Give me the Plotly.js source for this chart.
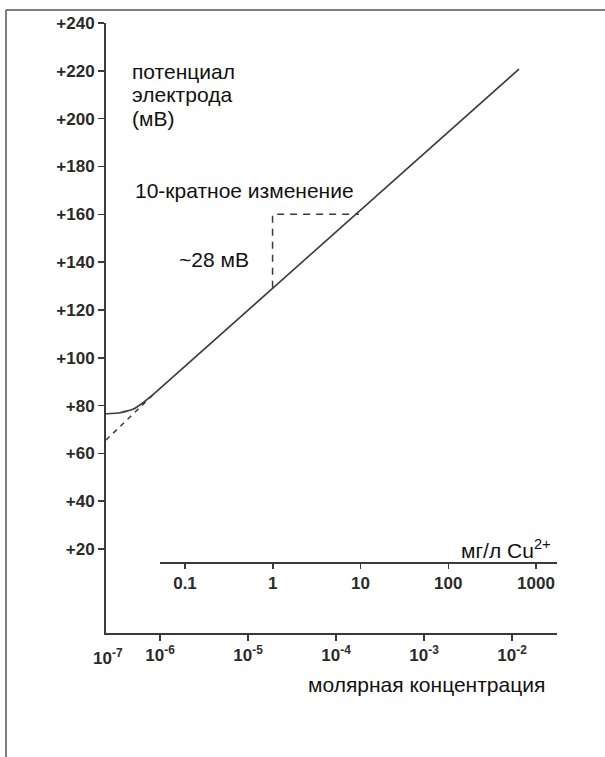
<!DOCTYPE html>
<html><head><meta charset="utf-8">
<script src="https://cdn.plot.ly/plotly-3.0.1.min.js"></script>
<style>html,body{margin:0;padding:0;background:#fff;}#chart{width:605px;height:757px;}</style>
</head><body><div id="chart"></div>
<script>
// Electrode response (molar concentration, mV)
const curveConc = [2.43e-7, 3.51e-7, 4.93e-7, 6.41e-7, 8.77e-7, 1.2e-2];
const curveMv   = [76.6, 77.0, 78.5, 81.2, 85.3, 220.7];
// Nernstian extrapolation (dashed)
const extrapConc = [2.43e-7, 8.77e-7];
const extrapMv   = [65.6, 85.3];
// 10-fold change triangle
const triConc = [1.9e-5, 1.9e-5, 1.82e-4];
const triMv   = [129.3, 160, 160];
// Axis ticks
const yTicks = [20, 40, 60, 80, 100, 120, 140, 160, 180, 200, 220, 240];
const yTickText = ['+20', '+40', '+60', '+80', '+100', '+120', '+140', '+160', '+180', '+200', '+220', '+240'];
const molarTicks = [1e-6, 1e-5, 1e-4, 1e-3, 1e-2];
const molarTickText = ['10<sup>-6</sup>', '10<sup>-5</sup>', '10<sup>-4</sup>', '10<sup>-3</sup>', '10<sup>-2</sup>'];
const mgTicks = [0.1, 1, 10, 100, 1000];
const mgTickText = ['0.1', '1', '10', '100', '1000'];
const yTitleLines = ['потенциал', 'электрода', '(мВ)'];

const ink = '#3a3a3a';
const tickFont = {family: 'Liberation Sans Narrow, Arial Narrow, Liberation Sans, Arial', size: 17, color: '#2a2a2a', weight: 'bold'};
const txtFont = {family: 'Liberation Sans, Arial', size: 21, color: '#111'};

const traces = [
  {x: curveConc, y: curveMv, mode: 'lines', line: {color: ink, width: 1.6, shape: 'spline', smoothing: 0.4}, hoverinfo: 'skip', showlegend: false},
  {x: extrapConc, y: extrapMv, mode: 'lines', line: {color: ink, width: 1.5, dash: '5px,5px'}, hoverinfo: 'skip', showlegend: false},
  {x: triConc, y: triMv, mode: 'lines', line: {color: ink, width: 1.5, dash: '7px,6px'}, hoverinfo: 'skip', showlegend: false},
  {x: mgTicks, y: mgTicks.map(() => null), xaxis: 'x2', yaxis: 'y', mode: 'lines', hoverinfo: 'skip', showlegend: false}
];

const titleYs = [0.921, 0.882, 0.844];
const annotations = yTitleLines.map((t, i) => ({
  xref: 'paper', yref: 'paper', x: 0.053, y: titleYs[i], xanchor: 'left', yanchor: 'middle',
  showarrow: false, text: t, font: txtFont
}));
annotations.push(
  {xref: 'paper', yref: 'paper', x: 0.0599, y: 0.725, xanchor: 'left', yanchor: 'middle', showarrow: false,
   text: '10-кратное изменение', font: txtFont},
  {xref: 'paper', yref: 'paper', x: 0.1574, y: 0.613, xanchor: 'left', yanchor: 'middle', showarrow: false,
   text: '~28 мВ', font: txtFont},
  {xref: 'paper', yref: 'paper', x: 0.991, y: 0.138, xanchor: 'right', yanchor: 'middle', showarrow: false,
   text: 'мг/л Cu<sup>2+</sup>', font: txtFont},
  {xref: 'paper', yref: 'paper', x: 0.9778, y: -0.0852, xanchor: 'right', yanchor: 'middle', showarrow: false,
   text: 'молярная концентрация', font: txtFont},
  {xref: 'paper', yref: 'paper', x: 0.0044, y: -0.039, xanchor: 'center', yanchor: 'middle', showarrow: false,
   text: '10<sup>-7</sup>', font: tickFont}
);

const layout = {
  width: 605, height: 757,
  margin: {l: 106, r: 48, t: 23, b: 124},
  paper_bgcolor: '#fff', plot_bgcolor: 'rgba(0,0,0,0)',
  showlegend: false,
  xaxis: {
    type: 'log', range: [-6.614, -1.489], showgrid: false, zeroline: false,
    showline: true, linecolor: ink, linewidth: 2,
    ticks: 'outside', ticklen: 6, tickwidth: 1.5, tickcolor: ink,
    tickvals: molarTicks, ticktext: molarTickText, tickfont: tickFont
  },
  xaxis2: {
    type: 'log', range: [-1.285, 3.239], domain: [0.1197, 1], anchor: 'free', position: 0.1148,
    side: 'bottom', showgrid: false, zeroline: false,
    showline: true, linecolor: ink, linewidth: 2,
    ticks: 'outside', ticklen: 5, tickwidth: 1.5, tickcolor: ink,
    tickvals: mgTicks, ticktext: mgTickText, tickfont: tickFont
  },
  yaxis: {
    range: [-15.1, 240], showgrid: false, zeroline: false,
    showline: true, linecolor: ink, linewidth: 2,
    ticks: 'outside', ticklen: 6, tickwidth: 1.5, tickcolor: ink,
    tickvals: yTicks, ticktext: yTickText, tickfont: tickFont
  },
  shapes: [
    {type: 'line', xref: 'paper', yref: 'paper', x0: -0.2217, x1: 1.11, y0: 1.0213, y1: 1.0213, line: {color: '#555', width: 1.5}},
    {type: 'line', xref: 'paper', yref: 'paper', x0: -0.2217, x1: -0.2217, y0: 1.0213, y1: -0.21, line: {color: '#555', width: 1.5}}
  ],
  annotations: annotations
};

Plotly.newPlot('chart', traces, layout, {staticPlot: true, displayModeBar: false});
</script></body></html>
